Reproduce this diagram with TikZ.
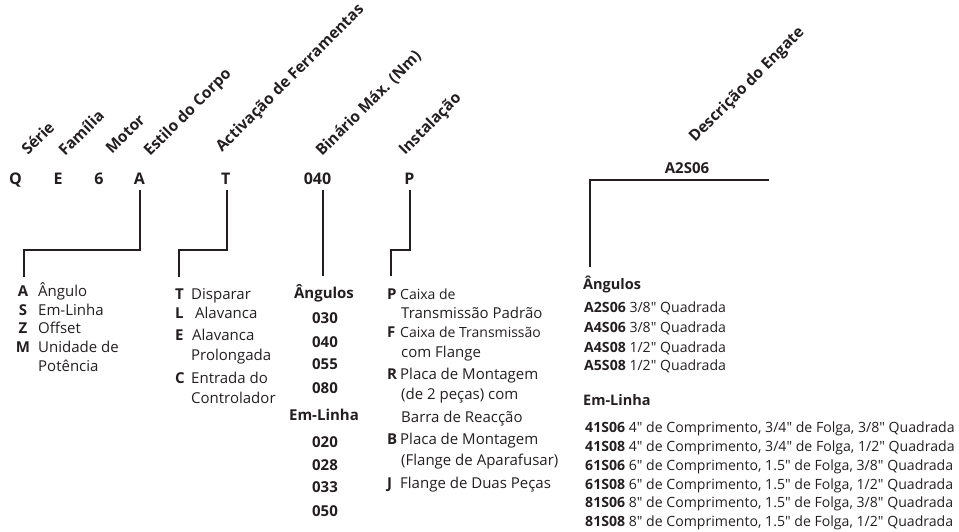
\documentclass[tikz,border=0pt]{standalone}
\usepackage{fontspec}
\setmainfont{Open Sans}[Ligatures=TeXOff]
\usetikzlibrary{positioning}
\definecolor{ink}{HTML}{231F20}

\begin{document}
\begin{tikzpicture}[x=1pt,y=-1pt,color=ink,
  lbl/.style={rotate=45,anchor=base west,inner sep=0pt,font=\fontsize{15.5}{17}\selectfont\bfseries},
  code/.style={anchor=base,inner sep=0pt,font=\fontsize{16}{18}\selectfont\bfseries},
  key/.style={anchor=base,inner sep=0pt,font=\fontsize{15}{17}\selectfont\bfseries},
  keyl/.style={key,anchor=base west},
  txt/.style={anchor=base west,inner sep=0pt,font=\fontsize{15}{17}\selectfont},
  txts/.style={txt,font=\fontsize{14}{16}\selectfont},
  num/.style={anchor=base,inner sep=0pt,font=\fontsize{15}{17}\selectfont\bfseries},
  rtxt/.style={anchor=base west,inner sep=0pt,font=\fontsize{14.1}{16}\selectfont},
  rhead/.style={rtxt,font=\fontsize{14.5}{16}\selectfont\bfseries},
  lead/.style={line width=2pt}]
\useasboundingbox (0,0) rectangle (959,531);

% rotated field names
\node[lbl] (serie) at (28,156) {Série};
\node[lbl] (familia) at (65,157) {Família};
\node[lbl] (motor) at (112,155) {Motor};
\node[lbl] (estilo) at (150,157) {Estilo do Corpo};
\node[lbl] (activ) at (222,153) {Activação de Ferramentas};
\node[lbl] (binario) at (322,157) {Binário Máx. (Nm)};
\node[lbl] (instal) at (405,156) {Instalação};
\node[lbl] (engate) at (695,143) {Descrição do Engate};

% model code
\node[code] (q) at (15.5,184) {Q};
\node[code] (e) at (58,184) {E};
\node[code] (six) at (99,184) {6};
\node[code] (a) at (139.5,184) {A};
\node[code] (t) at (225.7,184) {T};
\node[code] (n040) at (317.5,184) {040};
\node[code] (p) at (409.5,184) {P};
\node[code,font=\fontsize{15}{17}\selectfont\bfseries] (hdr) at (687,173) {A2S06};

% leader lines
\coordinate (aknee) at (24,250);
\coordinate (aend) at (24,277);
\coordinate (tknee) at (179,250);
\coordinate (tend) at (179,277);
\coordinate (nend) at (323,276);
\coordinate (pknee) at (391,250);
\coordinate (pend) at (391,276);
\coordinate (hdrR) at (769,180);
\coordinate (engEnd) at (590,267);
\draw[lead] ([yshift=-6pt]a.south) |- (aknee) -- (aend);
\draw[lead] ([xshift=1pt,yshift=-6pt]t.south) |- (tknee) -- (tend);
\draw[lead] ([xshift=5.5pt,yshift=-6pt]n040.south) -- (nend);
\draw[lead] ([yshift=-6pt]p.south) |- (pknee) -- (pend);
\draw[lead] (hdrR) -| (engEnd);

% body style
\foreach \k/\t/\y [count=\i] in {A/Ângulo/296,S/Em-Linha/315,Z/Offset/333,M/Unidade de/352}{
  \node[key] (bk\i) at (23,\y) {\k};
  \node[txt] (bt\i) at (38,\y) {\t};
}
\node[txt] (bt5) at (38,371) {Potência};

% tool activation
\foreach \k/\t/\x/\y [count=\i] in {T/Disparar/191/299,L/Alavanca/195/318,E/Alavanca/192/340,C/Entrada do/191/383}{
  \node[keyl] (ak\i) at (175,\y) {\k};
  \node[txt] (at\i) at (\x,\y) {\t};
}
\node[txt] (at5) at (191,360) {Prolongada};
\node[txt] (at6) at (191,403) {Controlador};

% torque
\node[num] (angH) at (324,298) {Ângulos};
\node[num] (emH) at (324,420) {Em-Linha};
\foreach \n/\y in {030/323,040/347,055/369,080/393,020/447,028/470,033/492,050/516}
  \node[num] (tq\n) at (325,\y) {\n};

% installation
\foreach \k/\t/\y in {R/Placa de Montagem/379,B/Placa de Montagem/444,J/Flange de Duas Peças/488}{
  \node[keyl] (ik\k) at (387,\y) {\k};
  \node[txt] (it\k) at (400,\y) {\t};
}
\node[keyl] (ikP) at (387,299) {P};
\node[txts] (itP) at (400,299) {Caixa de};
\node[keyl] (ikF) at (387,337) {F};
\node[txts] (itF) at (400,337) {Caixa de Transmissão};
\node[txt] (itP2) at (401,318) {Transmissão Padrão};
\node[txt] (itF2) at (401,357) {com Flange};
\node[txt] (itR2) at (401,399) {(de 2 peças) com};
\node[txt] (itR3) at (401,422) {Barra de Reacção};
\node[txt] (itB2) at (401,465) {(Flange de Aparafusar)};

% coupling
\node[rhead] (rang) at (583,289) {Ângulos};
\node[rtxt] (r1) at (584,312) {\textbf{A2S06} 3/8" Quadrada};
\node[rtxt] (r2) at (584,332) {\textbf{A4S06} 3/8" Quadrada};
\node[rtxt] (r3) at (584,352) {\textbf{A4S08} 1/2" Quadrada};
\node[rtxt] (r4) at (584,370) {\textbf{A5S08} 1/2" Quadrada};
\node[rhead] (rem) at (583,405) {Em-Linha};
\node[rtxt] (r5) at (585,432) {\textbf{41S06} 4" de Comprimento, 3/4" de Folga, 3/8" Quadrada};
\node[rtxt] (r6) at (585,451) {\textbf{41S08} 4" de Comprimento, 3/4" de Folga, 1/2" Quadrada};
\node[rtxt] (r7) at (585,470) {\textbf{61S06} 6" de Comprimento, 1.5" de Folga, 3/8" Quadrada};
\node[rtxt] (r8) at (585,489) {\textbf{61S08} 6" de Comprimento, 1.5" de Folga, 1/2" Quadrada};
\node[rtxt] (r9) at (585,507) {\textbf{81S06} 8" de Comprimento, 1.5" de Folga, 3/8" Quadrada};
\node[rtxt] (r10) at (585,526) {\textbf{81S08} 8" de Comprimento, 1.5" de Folga, 1/2" Quadrada};
\end{tikzpicture}
\end{document}
